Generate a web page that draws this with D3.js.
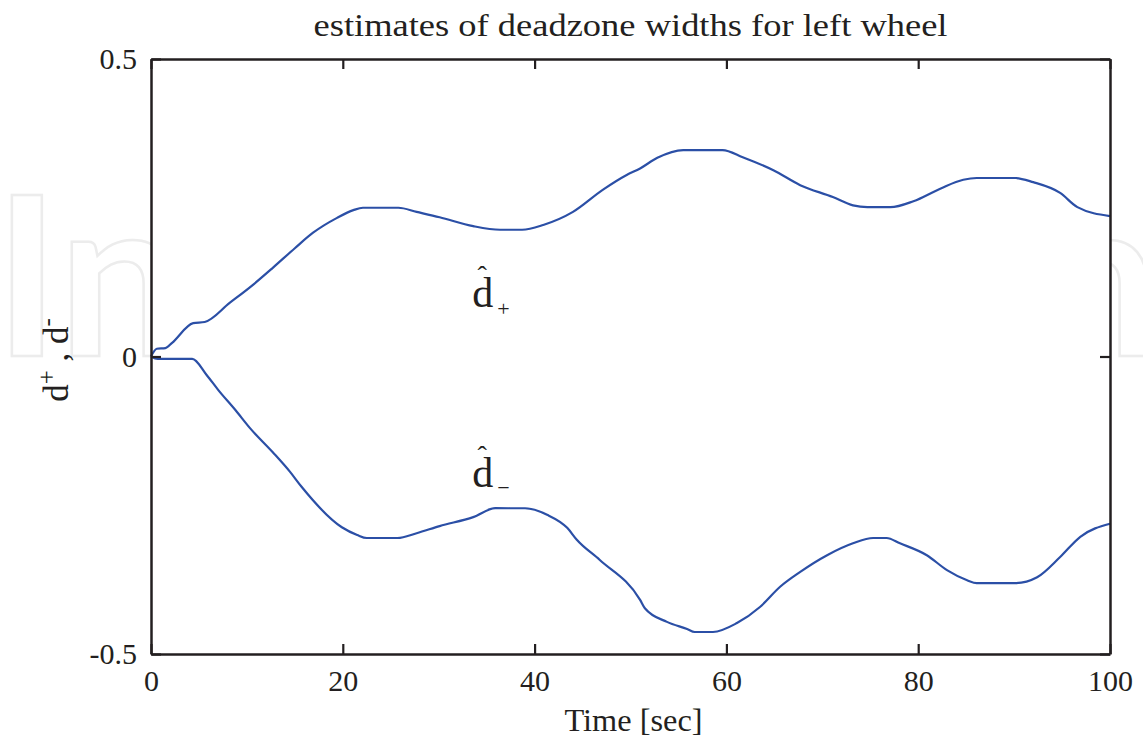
<!DOCTYPE html>
<html>
<head>
<meta charset="utf-8">
<script src="https://d3js.org/d3.v7.min.js"></script>
<style>
  body { margin: 0; background: #fff; }
  svg { display: block; }
  text { font-family: "Liberation Serif", "Times New Roman", serif; fill: #231f20; }
</style>
</head>
<body>
<svg id="chart" width="1143" height="739"></svg>
<script>
// estimated deadzone widths
let timeUpper = [0, 0.6, 1.5, 2.2, 4.4, 5.6, 8.2, 10.6, 12.7, 15.0, 16.9, 19.4, 21.1, 22.1, 25.8, 27.7, 30.1, 33.6, 36.4, 38.7, 40.9, 44.0, 47.1, 49.6, 51.0, 52.8, 55.5, 59.6, 61.7, 64.9, 67.7, 71.1, 73.2, 74.7, 77.1, 79.5, 82.3, 84.7, 86.1, 90.1, 92.0, 94.8, 96.6, 100];
let dPlus = [0, 0.013, 0.014, 0.023, 0.056, 0.058, 0.090, 0.120, 0.149, 0.182, 0.208, 0.233, 0.246, 0.250, 0.250, 0.243, 0.234, 0.219, 0.213, 0.213, 0.221, 0.243, 0.280, 0.305, 0.316, 0.334, 0.347, 0.347, 0.335, 0.313, 0.288, 0.268, 0.254, 0.251, 0.251, 0.261, 0.282, 0.297, 0.300, 0.300, 0.293, 0.275, 0.251, 0.236];

let timeLower = [0, 0.7, 4.3, 5.8, 7.0, 8.8, 10.3, 12.7, 14.5, 15.7, 19.9, 21.5, 22.5, 25.7, 27.7, 30.1, 33.6, 35.9, 39.0, 41.3, 43.4, 44.4, 46.8, 51.0, 51.5, 53.8, 55.9, 56.7, 58.6, 61.1, 63.5, 65.6, 67.7, 70.5, 73.2, 75.3, 76.7, 78.1, 80.9, 83.0, 85.1, 86.1, 90.1, 92.4, 94.8, 96.9, 100];
let dMinus = [0, -0.004, -0.004, -0.031, -0.056, -0.090, -0.120, -0.161, -0.194, -0.219, -0.287, -0.300, -0.305, -0.305, -0.297, -0.285, -0.270, -0.255, -0.255, -0.266, -0.288, -0.308, -0.342, -0.409, -0.423, -0.446, -0.458, -0.463, -0.463, -0.448, -0.421, -0.387, -0.362, -0.334, -0.314, -0.305, -0.305, -0.314, -0.334, -0.359, -0.376, -0.381, -0.381, -0.371, -0.337, -0.303, -0.281];

let xTicks = [0, 20, 40, 60, 80, 100];
let yTicks = [-0.5, 0, 0.5];
let yTickLabels = ["-0.5", "0", "0.5"];

// curve labels: [time, value, subscript]
let curveLabels = [[33.5, 0.083, "+"], [33.5, -0.219, "\u2212"]];

let svg = d3.select("#chart");
let margin = {left: 151, right: 33, top: 59, bottom: 85};
let W = 1143, H = 739;

let x = d3.scaleLinear().domain([0, 100]).range([margin.left, W - margin.right]);
let y = d3.scaleLinear().domain([-0.5, 0.5]).range([H - margin.bottom, margin.top]);

// faint watermark behind the axes
svg.append("text")
    .attr("x", -6).attr("y", 356)
    .style("font-family", "Lato, 'Open Sans', sans-serif")
    .style("font-weight", "bold")
    .style("font-size", "222px")
    .style("fill", "none")
    .style("stroke", "#ececec")
    .style("stroke-width", 2.5)
    .text("IntechOpen");

svg.append("rect")
    .attr("x", x(0)).attr("y", y(0.5))
    .attr("width", x(100) - x(0)).attr("height", y(-0.5) - y(0.5))
    .style("fill", "#fff");

// curves
let line = d3.line()
    .x(function(d){ return x(d[0]); })
    .y(function(d){ return y(d[1]); })
    .curve(d3.curveMonotoneX);

[[timeUpper, dPlus], [timeLower, dMinus]].forEach(function(s){
  svg.append("path")
      .datum(d3.zip(s[0], s[1]))
      .attr("d", line)
      .style("fill", "none")
      .style("stroke", "#2b4fa6")
      .style("stroke-width", 2.2);
});

// box axes with inward ticks
function styleAxis(g){
  g.select(".domain").style("stroke", "#231f20").style("stroke-width", 2.5);
  g.selectAll(".tick line").style("stroke", "#231f20").style("stroke-width", 2.2);
  g.selectAll(".tick text").style("font-size", "30px").style("fill", "#231f20")
      .style("font-family", "'Liberation Serif', serif");
}

svg.append("g")
    .attr("transform", "translate(0," + y(-0.5) + ")")
    .call(d3.axisBottom(x).tickValues(xTicks).tickSize(-10).tickSizeOuter(0).tickPadding(16).tickFormat(d3.format("d")))
    .call(styleAxis);

svg.append("g")
    .attr("transform", "translate(0," + y(0.5) + ")")
    .call(d3.axisTop(x).tickValues(xTicks).tickSize(-10).tickSizeOuter(0).tickFormat(""))
    .call(styleAxis);

svg.append("g")
    .attr("transform", "translate(" + x(0) + ",0)")
    .call(d3.axisLeft(y).tickValues(yTicks).tickSize(-10).tickSizeOuter(0).tickPadding(14)
      .tickFormat(function(d){ return yTickLabels[yTicks.indexOf(d)]; }))
    .call(styleAxis);

svg.append("g")
    .attr("transform", "translate(" + x(100) + ",0)")
    .call(d3.axisRight(y).tickValues(yTicks).tickSize(-10).tickSizeOuter(0).tickFormat(""))
    .call(styleAxis);

// title and axis labels
svg.append("text")
    .attr("x", (x(0) + x(100)) / 2).attr("y", 36)
    .attr("text-anchor", "middle")
    .attr("textLength", 634)
    .attr("lengthAdjust", "spacingAndGlyphs")
    .style("font-size", "31px")
    .text("estimates of deadzone widths for left wheel");

svg.append("text")
    .attr("x", (x(0) + x(100)) / 2 + 3).attr("y", 731)
    .attr("text-anchor", "middle")
    .attr("textLength", 138)
    .attr("lengthAdjust", "spacingAndGlyphs")
    .style("font-size", "32px")
    .text("Time [sec]");

let yl = svg.append("text")
    .attr("transform", "translate(68," + 360 + ") rotate(-90)")
    .attr("text-anchor", "middle")
    .style("font-size", "35px");
yl.append("tspan").text("d");
yl.append("tspan").attr("dy", -13).style("font-size", "25px").text("+");
yl.append("tspan").attr("dy", 13).text(" , d");
yl.append("tspan").attr("dy", -13).style("font-size", "25px").text("-");

// hatted curve labels
curveLabels.forEach(function(c){
  let g = svg.append("g").attr("transform", "translate(" + x(c[0]) + "," + y(c[1]) + ")");
  g.append("text").attr("x", 0).attr("y", 0).style("font-size", "42px").text("d");
  g.append("text").attr("x", 10).attr("y", -22).attr("text-anchor", "middle")
      .style("font-size", "28px").text("\u02C6");
  g.append("text").attr("x", 25).attr("y", c[2] == "+" ? 9 : 8)
      .style("font-size", "22px").text(c[2]);
});
</script>
</body>
</html>
